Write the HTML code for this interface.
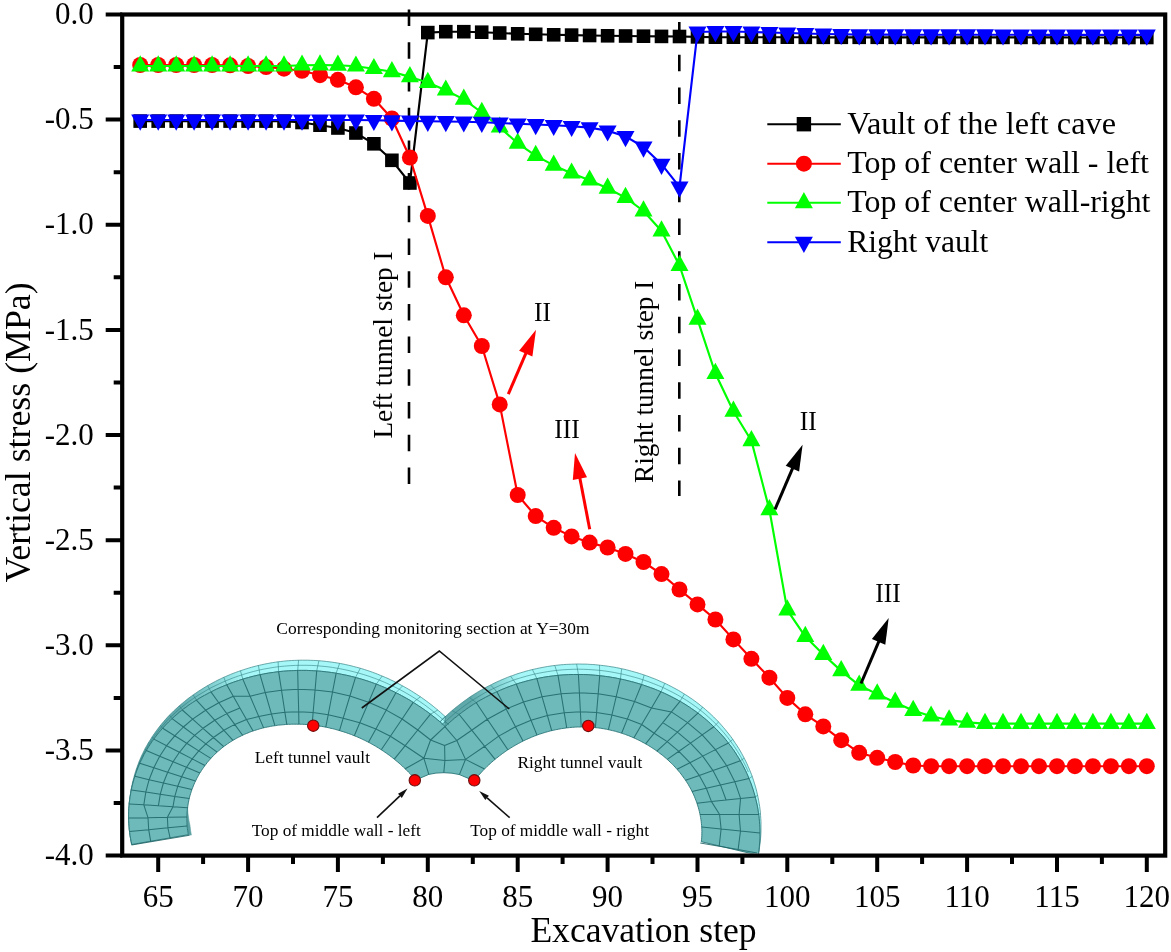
<!DOCTYPE html>
<html lang="en"><head><meta charset="utf-8"><title>Vertical stress vs excavation step</title>
<style>html,body{margin:0;padding:0;background:#fff}body{width:1171px;height:952px;overflow:hidden}svg{display:block;will-change:transform}text{font-family:"Liberation Serif","Times New Roman",Times,serif;fill:#000}</style></head><body>
<svg width="1171" height="952" viewBox="0 0 1171 952">
<rect width="1171" height="952" fill="#fff"/>
<defs>
<clipPath id="ins"><rect x="124.3" y="600" width="700" height="253.5"/></clipPath>
<linearGradient id="rg" gradientUnits="userSpaceOnUse" x1="470" y1="0" x2="520" y2="0"><stop offset="0" stop-color="#60a9ab"/><stop offset="1" stop-color="#a6f7f7"/></linearGradient>
<linearGradient id="lg" gradientUnits="userSpaceOnUse" x1="178" y1="0" x2="246" y2="0"><stop offset="0" stop-color="#5fa9ab"/><stop offset="1" stop-color="#a6f7f7"/></linearGradient>
</defs>
<g clip-path="url(#ins)">
<path d="M187.6 807.1L187.4 809.2L187.1 811.3L187 813.4L186.9 815.6L186.8 817.7L186.8 819.8L186.9 821.9L187 824.1L187.1 826.2L187.4 828.3L187.6 830.5L188 832.6L188.3 834.7L191.3 835.1L191 833L190.6 830.9L190.4 828.7L190.1 826.6L189.8 824.5L189.3 822.3L188.9 820.2L188.6 818.1L188.3 816L188 813.8L187.8 811.7L187.7 809.6L187.6 807.5z" fill="#5a9fa1" stroke="#5a9fa1" stroke-width="0.6"/>
<polygon points="131.5,844.6 131,841.6 130.5,838.6 130.1,835.7 129.7,832.7 129.3,829.7 129.1,826.7 128.8,823.6 128.7,820.6 128.6,817.6 128.6,814.6 128.7,811.6 128.9,808.6 129.1,805.5 129.3,802.5 129.7,799.5 130,796.5 130.5,793.6 130.9,790.6 131.5,787.6 132.1,784.7 132.7,781.7 133.5,778.8 134.3,775.9 135.1,773 136,770.2 137,767.3 138,764.5 139.1,761.7 140.2,759 141.4,756.2 142.7,753.5 144,750.9 145.3,748.2 146.8,745.6 148.2,743 149.8,740.5 151.4,738 153,735.5 154.7,733.1 156.4,730.7 158.2,728.3 160,726 161.8,723.7 163.7,721.5 165.6,719.3 167.6,717.1 169.6,715 171.7,712.9 173.7,710.9 175.9,708.9 178,707 180.2,705.1 182.4,703.2 184.6,701.4 186.8,699.6 189.1,697.8 191.4,696.2 193.7,694.5 196.1,692.9 198.4,691.3 200.8,689.8 203.2,688.3 205.6,686.8 208,685.4 210.5,684 212.9,682.7 215.4,681.4 217.9,680.1 220.4,678.9 222.9,677.7 225.4,676.6 228,675.5 230.5,674.4 233.1,673.4 235.7,672.4 238.3,671.5 240.9,670.6 243.5,669.7 246.1,668.9 248.7,668.1 251.3,667.3 254,666.6 256.6,665.9 259.2,665.3 261.9,664.7 264.6,664.1 267.2,663.6 269.9,663.1 272.6,662.6 275.3,662.2 278,661.8 280.7,661.5 283.4,661.2 286,660.9 288.8,660.7 291.5,660.5 294.2,660.4 296.9,660.3 299.6,660.2 302.3,660.2 305,660.2 307.7,660.2 310.4,660.3 313.2,660.4 315.9,660.5 318.6,660.7 321.3,660.9 324,661.2 326.7,661.5 329.4,661.8 332.2,662.2 334.9,662.6 337.6,663 340.3,663.5 343,664 345.7,664.6 348.4,665.2 351.1,665.8 353.7,666.5 356.4,667.2 359.1,667.9 361.8,668.7 364.4,669.5 367.1,670.4 369.8,671.3 372.4,672.2 375.1,673.2 377.7,674.2 380.3,675.3 383,676.4 385.6,677.5 388.2,678.6 390.8,679.9 393.4,681.1 396,682.4 398.6,683.7 401.1,685.1 403.7,686.5 406.2,687.9 408.8,689.4 411.3,690.9 413.8,692.5 416.3,694.1 418.8,695.7 421.3,697.4 423.7,699.1 426.2,700.9 428.6,702.7 431.1,704.6 433.5,706.5 435.8,708.4 438.2,710.4 440.6,712.4 442.9,714.5 445.2,716.6 447.5,718.7 449.8,720.9 452.1,723.1 445.3,716.4 444.9,726.6 444.4,725.7 442.1,723.7 439.8,721.7 437.5,719.8 435.2,717.9 432.8,716 430.5,714.2 428.1,712.4 425.7,710.7 423.3,709 421,707.4 418.5,705.8 416.1,704.2 413.7,702.7 411.3,701.2 408.9,699.7 406.4,698.3 404,697 401.5,695.6 399.1,694.3 396.6,693.1 394.1,691.8 391.7,690.7 389.2,689.5 386.7,688.4 384.2,687.3 381.7,686.3 379.3,685.3 376.8,684.3 374.3,683.4 371.8,682.5 369.3,681.6 366.8,680.8 364.3,680 361.7,679.2 359.2,678.5 356.7,677.8 354.2,677.1 351.7,676.5 349.2,675.9 346.7,675.3 344.1,674.8 341.6,674.3 339.1,673.8 336.6,673.3 334.1,672.9 331.5,672.5 329,672.2 326.5,671.9 324,671.6 321.4,671.3 318.9,671.1 316.4,670.9 313.9,670.8 311.3,670.6 308.8,670.5 306.3,670.4 303.8,670.4 301.3,670.4 298.7,670.4 296.2,670.5 293.7,670.6 291.2,670.7 288.6,670.8 286.1,671 283.6,671.2 281.1,671.4 278.6,671.7 276,672 273.5,672.4 271,672.7 268.5,673.1 266,673.5 263.5,674 261,674.5 258.5,675 256,675.6 253.5,676.2 251,676.8 248.5,677.5 246,678.2 243.5,678.9 241,679.7 238.6,680.5 236.1,681.3 233.6,682.2 231.1,683.1 228.7,684 226.2,685 223.8,686 221.3,687 218.9,688.1 216.5,689.2 214.1,690.4 211.7,691.6 209.2,692.8 206.9,694.1 204.5,695.4 202.1,696.7 199.7,698.1 197.4,699.5 195,701 192.7,702.5 190.4,704 188.1,705.6 185.9,707.3 183.6,708.9 181.4,710.7 179.2,712.4 177,714.3 174.9,716.1 172.8,718 170.7,720 168.6,722 166.6,724 164.6,726.1 162.7,728.2 160.7,730.4 158.9,732.6 157,734.9 155.3,737.2 153.5,739.5 151.8,741.9 150.2,744.4 148.6,746.8 147.1,749.3 145.6,751.9 144.1,754.5 142.8,757.1 141.5,759.8 140.2,762.4 139,765.2 137.9,767.9 136.8,770.7 135.8,773.5 134.9,776.3 134,779.2 133.2,782.1 132.4,785 131.7,787.9 131.1,790.8 130.6,793.8 130.1,796.7 129.7,799.7 129.3,802.7 129.1,805.7 128.8,808.7 128.7,811.7 128.6,814.7 128.6,817.7 128.7,820.7 128.9,823.7 129.1,826.7 129.3,829.7 129.7,832.7 130.1,835.7 130.6,838.6 131.2,841.6 131.8,844.5" fill="url(#lg)" stroke="#3a8486" stroke-width="0.7" stroke-linejoin="round"/>
<polygon points="445.3,716.4 438.3,723.5 440.5,721.3 442.8,719.1 445,716.9 447.3,714.8 449.6,712.7 451.9,710.7 454.3,708.7 456.7,706.8 459.1,704.9 461.5,703.1 463.9,701.3 466.4,699.5 468.8,697.8 471.3,696.1 473.8,694.5 476.3,692.9 478.8,691.4 481.4,689.9 483.9,688.5 486.5,687.1 489.1,685.7 491.7,684.4 494.3,683.1 496.9,681.9 499.5,680.7 502.1,679.6 504.7,678.5 507.4,677.4 510,676.4 512.7,675.5 515.3,674.5 518,673.6 520.6,672.8 523.3,672 526,671.2 528.6,670.5 531.3,669.8 534,669.2 536.7,668.6 539.4,668 542,667.5 544.7,667 547.4,666.5 550.1,666.1 552.8,665.7 555.5,665.4 558.1,665.1 560.8,664.8 563.5,664.6 566.2,664.4 568.9,664.3 571.5,664.2 574.2,664.1 576.9,664 579.5,664 582.2,664.1 584.8,664.1 587.5,664.2 590.1,664.4 592.8,664.5 595.4,664.7 598,665 600.6,665.3 603.3,665.6 605.9,665.9 608.5,666.3 611.1,666.7 613.7,667.1 616.3,667.6 618.9,668.1 621.4,668.7 624,669.2 626.6,669.8 629.1,670.5 631.7,671.2 634.2,671.9 636.8,672.6 639.3,673.4 641.8,674.2 644.3,675 646.8,675.9 649.3,676.8 651.8,677.8 654.3,678.7 656.7,679.7 659.2,680.8 661.7,681.9 664.1,683 666.5,684.1 668.9,685.3 671.3,686.5 673.7,687.8 676.1,689.1 678.5,690.4 680.8,691.8 683.1,693.2 685.5,694.7 687.7,696.1 690,697.7 692.3,699.2 694.5,700.8 696.8,702.5 699,704.2 701.1,705.9 703.3,707.6 705.4,709.4 707.5,711.3 709.6,713.1 711.7,715.1 713.7,717 715.7,719 717.7,721 719.6,723.1 721.5,725.2 723.4,727.4 725.2,729.5 727,731.8 728.8,734 730.6,736.3 732.3,738.6 733.9,741 735.5,743.4 737.1,745.8 738.7,748.3 740.2,750.8 741.6,753.3 743,755.9 744.4,758.5 745.7,761.1 747,763.8 748.2,766.5 749.4,769.2 750.5,772 751.6,774.7 752.6,777.5 753.5,780.3 754.4,783.2 755.3,786.1 756.1,788.9 756.8,791.8 757.5,794.8 758.1,797.7 758.7,800.7 759.2,803.7 759.7,806.6 760.1,809.6 760.4,812.7 760.6,815.7 760.8,818.7 761,821.8 761,824.8 761,827.8 761,830.9 760.9,833.9 760.7,837 760.4,840 760.1,843.1 759.7,846.1 759.3,849.1 758.7,852.2 758.2,855.2 758.2,855.2 758.7,852.2 759,849.1 759.4,846.1 759.6,843 759.8,840 759.9,836.9 759.9,833.9 759.9,830.9 759.8,827.8 759.7,824.8 759.5,821.8 759.2,818.8 758.9,815.8 758.4,812.8 758,809.9 757.5,806.9 756.9,804 756.2,801.1 755.5,798.2 754.8,795.3 753.9,792.4 753.1,789.6 752.1,786.8 751.2,784 750.1,781.3 749,778.6 747.9,775.9 746.7,773.2 745.5,770.6 744.2,768 742.9,765.4 741.5,762.9 740.1,760.4 738.6,757.9 737.1,755.5 735.6,753.1 734,750.7 732.4,748.4 730.7,746.1 729,743.9 727.3,741.6 725.6,739.5 723.8,737.3 721.9,735.2 720.1,733.2 718.2,731.2 716.3,729.2 714.3,727.3 712.4,725.4 710.4,723.5 708.4,721.7 706.3,719.9 704.3,718.2 702.2,716.5 700.1,714.8 698,713.2 695.9,711.6 693.7,710.1 691.5,708.6 689.4,707.1 687.2,705.7 685,704.3 682.7,702.9 680.5,701.6 678.2,700.3 676,699.1 673.7,697.9 671.4,696.7 669.2,695.6 666.9,694.5 664.6,693.4 662.2,692.3 659.9,691.3 657.6,690.4 655.3,689.4 653,688.5 650.6,687.7 648.3,686.8 645.9,686 643.6,685.2 641.2,684.4 638.9,683.7 636.5,683 634.1,682.3 631.7,681.7 629.4,681.1 627,680.5 624.6,679.9 622.2,679.4 619.8,678.9 617.4,678.4 615,677.9 612.6,677.5 610.2,677.1 607.8,676.7 605.4,676.4 602.9,676.1 600.5,675.8 598.1,675.5 595.6,675.3 593.2,675.1 590.8,674.9 588.3,674.7 585.9,674.6 583.4,674.5 580.9,674.5 578.5,674.5 576,674.5 573.5,674.5 571,674.5 568.5,674.6 566,674.8 563.5,674.9 561.1,675.1 558.5,675.3 556,675.6 553.5,675.9 551,676.2 548.5,676.5 546,676.9 543.5,677.3 540.9,677.8 538.4,678.3 535.9,678.8 533.4,679.4 530.8,680 528.3,680.6 525.8,681.3 523.3,682 520.7,682.7 518.2,683.5 515.7,684.3 513.2,685.2 510.6,686.1 508.1,687 505.6,688 503.1,689 500.6,690.1 498.1,691.2 495.6,692.3 493.1,693.5 490.6,694.7 488.1,696 485.6,697.3 483.2,698.6 480.7,700 478.3,701.4 475.9,702.9 473.4,704.4 471,706 468.6,707.6 466.2,709.3 463.9,711 461.5,712.7 459.2,714.5 456.9,716.4 454.6,718.2 452.3,720.2 450,722.1 447.8,724.1 445.6,726.2 444.9,726.6" fill="url(#rg)" stroke="#3a8486" stroke-width="0.7" stroke-linejoin="round"/>
<polygon points="131.8,844.5 131.2,841.6 130.6,838.6 130.1,835.7 129.7,832.7 129.3,829.7 129.1,826.7 128.9,823.7 128.7,820.7 128.6,817.7 128.6,814.7 128.7,811.7 128.8,808.7 129.1,805.7 129.3,802.7 129.7,799.7 130.1,796.7 130.6,793.8 131.1,790.8 131.7,787.9 132.4,785 133.2,782.1 134,779.2 134.9,776.3 135.8,773.5 136.8,770.7 137.9,767.9 139,765.2 140.2,762.4 141.5,759.8 142.8,757.1 144.1,754.5 145.6,751.9 147.1,749.3 148.6,746.8 150.2,744.4 151.8,741.9 153.5,739.5 155.3,737.2 157,734.9 158.9,732.6 160.7,730.4 162.7,728.2 164.6,726.1 166.6,724 168.6,722 170.7,720 172.8,718 174.9,716.1 177,714.3 179.2,712.4 181.4,710.7 183.6,708.9 185.9,707.3 188.1,705.6 190.4,704 192.7,702.5 195,701 197.4,699.5 199.7,698.1 202.1,696.7 204.5,695.4 206.9,694.1 209.2,692.8 211.7,691.6 214.1,690.4 216.5,689.2 218.9,688.1 221.3,687 223.8,686 226.2,685 228.7,684 231.1,683.1 233.6,682.2 236.1,681.3 238.6,680.5 241,679.7 243.5,678.9 246,678.2 248.5,677.5 251,676.8 253.5,676.2 256,675.6 258.5,675 261,674.5 263.5,674 266,673.5 268.5,673.1 271,672.7 273.5,672.4 276,672 278.6,671.7 281.1,671.4 283.6,671.2 286.1,671 288.6,670.8 291.2,670.7 293.7,670.6 296.2,670.5 298.7,670.4 301.3,670.4 303.8,670.4 306.3,670.4 308.8,670.5 311.3,670.6 313.9,670.8 316.4,670.9 318.9,671.1 321.4,671.3 324,671.6 326.5,671.9 329,672.2 331.5,672.5 334.1,672.9 336.6,673.3 339.1,673.8 341.6,674.3 344.1,674.8 346.7,675.3 349.2,675.9 351.7,676.5 354.2,677.1 356.7,677.8 359.2,678.5 361.7,679.2 364.3,680 366.8,680.8 369.3,681.6 371.8,682.5 374.3,683.4 376.8,684.3 379.3,685.3 381.7,686.3 384.2,687.3 386.7,688.4 389.2,689.5 391.7,690.7 394.1,691.8 396.6,693.1 399.1,694.3 401.5,695.6 404,697 406.4,698.3 408.9,699.7 411.3,701.2 413.7,702.7 416.1,704.2 418.5,705.8 421,707.4 423.3,709 425.7,710.7 428.1,712.4 430.5,714.2 432.8,716 435.2,717.9 437.5,719.8 439.8,721.7 442.1,723.7 444.4,725.7 444.9,726.6 445.6,726.2 447.8,724.1 450,722.1 452.3,720.2 454.6,718.2 456.9,716.4 459.2,714.5 461.5,712.7 463.9,711 466.2,709.3 468.6,707.6 471,706 473.4,704.4 475.9,702.9 478.3,701.4 480.7,700 483.2,698.6 485.6,697.3 488.1,696 490.6,694.7 493.1,693.5 495.6,692.3 498.1,691.2 500.6,690.1 503.1,689 505.6,688 508.1,687 510.6,686.1 513.2,685.2 515.7,684.3 518.2,683.5 520.7,682.7 523.3,682 525.8,681.3 528.3,680.6 530.8,680 533.4,679.4 535.9,678.8 538.4,678.3 540.9,677.8 543.5,677.3 546,676.9 548.5,676.5 551,676.2 553.5,675.9 556,675.6 558.5,675.3 561.1,675.1 563.5,674.9 566,674.8 568.5,674.6 571,674.5 573.5,674.5 576,674.5 578.5,674.5 580.9,674.5 583.4,674.5 585.9,674.6 588.3,674.7 590.8,674.9 593.2,675.1 595.6,675.3 598.1,675.5 600.5,675.8 602.9,676.1 605.4,676.4 607.8,676.7 610.2,677.1 612.6,677.5 615,677.9 617.4,678.4 619.8,678.9 622.2,679.4 624.6,679.9 627,680.5 629.4,681.1 631.7,681.7 634.1,682.3 636.5,683 638.9,683.7 641.2,684.4 643.6,685.2 645.9,686 648.3,686.8 650.6,687.7 653,688.5 655.3,689.4 657.6,690.4 659.9,691.3 662.2,692.3 664.6,693.4 666.9,694.5 669.2,695.6 671.4,696.7 673.7,697.9 676,699.1 678.2,700.3 680.5,701.6 682.7,702.9 685,704.3 687.2,705.7 689.4,707.1 691.5,708.6 693.7,710.1 695.9,711.6 698,713.2 700.1,714.8 702.2,716.5 704.3,718.2 706.3,719.9 708.4,721.7 710.4,723.5 712.4,725.4 714.3,727.3 716.3,729.2 718.2,731.2 720.1,733.2 721.9,735.2 723.8,737.3 725.6,739.5 727.3,741.6 729,743.9 730.7,746.1 732.4,748.4 734,750.7 735.6,753.1 737.1,755.5 738.6,757.9 740.1,760.4 741.5,762.9 742.9,765.4 744.2,768 745.5,770.6 746.7,773.2 747.9,775.9 749,778.6 750.1,781.3 751.2,784 752.1,786.8 753.1,789.6 753.9,792.4 754.8,795.3 755.5,798.2 756.2,801.1 756.9,804 757.5,806.9 758,809.9 758.4,812.8 758.9,815.8 759.2,818.8 759.5,821.8 759.7,824.8 759.8,827.8 759.9,830.9 759.9,833.9 759.9,836.9 759.8,840 759.6,843 759.4,846.1 759,849.1 758.7,852.2 758.2,855.2 701.3,841.7 701.5,839.7 701.7,837.7 701.8,835.6 701.8,833.6 701.9,831.5 701.8,829.5 701.7,827.5 701.6,825.5 701.4,823.5 701.2,821.4 700.9,819.5 700.6,817.5 700.2,815.5 699.8,813.5 699.4,811.6 698.9,809.7 698.4,807.8 697.8,805.9 697.2,804 696.6,802.1 695.9,800.3 695.2,798.5 694.5,796.7 693.7,794.9 692.9,793.2 692,791.4 691.2,789.7 690.3,788 689.3,786.4 688.4,784.7 687.4,783.1 686.4,781.6 685.4,780 684.3,778.5 683.2,777 682.1,775.5 681,774 679.9,772.6 678.7,771.2 677.5,769.8 676.3,768.5 675.1,767.1 673.9,765.8 672.7,764.6 671.4,763.3 670.1,762.1 668.9,760.9 667.6,759.7 666.3,758.6 665,757.4 663.6,756.3 662.3,755.2 661,754.2 659.6,753.2 658.3,752.1 656.9,751.2 655.6,750.2 654.2,749.2 652.8,748.3 651.4,747.4 650.1,746.5 648.7,745.7 647.3,744.8 645.9,744 644.4,743.2 643,742.4 641.6,741.7 640.2,740.9 638.8,740.2 637.3,739.5 635.9,738.8 634.5,738.2 633,737.5 631.6,736.9 630.1,736.3 628.7,735.7 627.2,735.2 625.7,734.6 624.3,734.1 622.8,733.6 621.3,733.1 619.8,732.6 618.4,732.2 616.9,731.8 615.4,731.3 613.9,730.9 612.4,730.6 610.9,730.2 609.4,729.9 607.9,729.6 606.4,729.2 604.9,729 603.4,728.7 601.9,728.5 600.4,728.2 598.8,728 597.3,727.8 595.8,727.7 594.3,727.5 592.7,727.4 591.2,727.2 589.7,727.1 588.1,727.1 586.6,727 585,727 583.5,726.9 581.9,726.9 580.4,727 578.8,727 577.3,727 575.7,727.1 574.2,727.2 572.6,727.3 571,727.4 569.5,727.6 567.9,727.8 566.3,727.9 564.8,728.2 563.2,728.4 561.6,728.6 560,728.9 558.5,729.2 556.9,729.5 555.3,729.8 553.7,730.2 552.1,730.5 550.5,730.9 548.9,731.3 547.3,731.8 545.8,732.2 544.2,732.7 542.6,733.2 541,733.7 539.4,734.2 537.8,734.8 536.2,735.4 534.6,736 533,736.6 531.4,737.3 529.8,738 528.2,738.7 526.6,739.4 525,740.1 523.4,740.9 521.8,741.7 520.2,742.6 518.6,743.4 517,744.3 515.4,745.2 513.8,746.1 512.2,747.1 510.6,748.1 509,749.1 507.4,750.1 505.8,751.2 504.3,752.3 502.7,753.4 501.1,754.6 499.5,755.8 498,757 496.4,758.2 494.9,759.5 493.3,760.8 491.8,762.1 490.3,763.5 488.7,764.9 487.2,766.3 485.7,767.8 484.2,769.3 482.7,770.8 481.3,772.4 479.8,774 478.3,775.6 476.9,777.3 475.5,779 474.3,781.5 469.6,778.9 459.4,774.6 452,773.2 443.8,772.7 436,773.1 428.8,774.4 420.4,778 414.8,781.5 414.5,778.6 413,776.9 411.5,775.2 410,773.6 408.4,772 406.9,770.5 405.4,769 403.8,767.5 402.3,766 400.7,764.6 399.1,763.2 397.6,761.9 396,760.6 394.4,759.3 392.8,758 391.3,756.8 389.7,755.6 388.1,754.4 386.5,753.3 384.9,752.2 383.3,751.1 381.7,750.1 380.1,749 378.6,748 377,747.1 375.4,746.1 373.8,745.2 372.2,744.3 370.6,743.4 369,742.5 367.4,741.7 365.8,740.9 364.2,740.1 362.6,739.4 361.1,738.6 359.5,737.9 357.9,737.2 356.3,736.5 354.7,735.9 353.1,735.3 351.6,734.6 350,734 348.4,733.5 346.8,732.9 345.3,732.4 343.7,731.9 342.1,731.4 340.5,730.9 339,730.4 337.4,730 335.8,729.5 334.3,729.1 332.7,728.7 331.1,728.4 329.6,728 328,727.6 326.4,727.3 324.9,727 323.3,726.7 321.7,726.4 320.1,726.2 318.6,725.9 317,725.7 315.4,725.5 313.9,725.3 312.3,725.1 310.7,724.9 309.1,724.8 307.6,724.6 306,724.5 304.4,724.4 302.8,724.3 301.3,724.3 299.7,724.2 298.1,724.2 296.5,724.2 294.9,724.2 293.3,724.2 291.7,724.2 290.1,724.3 288.5,724.3 286.9,724.4 285.3,724.5 283.7,724.7 282.1,724.8 280.5,725 278.8,725.1 277.2,725.3 275.6,725.6 274,725.8 272.4,726.1 270.7,726.3 269.1,726.7 267.5,727 265.8,727.3 264.2,727.7 262.6,728.1 260.9,728.5 259.3,729 257.7,729.5 256.1,730 254.4,730.5 252.8,731.1 251.2,731.6 249.6,732.2 248,732.9 246.3,733.6 244.7,734.2 243.1,735 241.6,735.7 240,736.5 238.4,737.3 236.8,738.1 235.3,739 233.7,739.9 232.2,740.8 230.6,741.8 229.1,742.8 227.6,743.8 226.1,744.9 224.6,745.9 223.2,747 221.7,748.2 220.3,749.4 218.9,750.6 217.5,751.8 216.1,753.1 214.8,754.3 213.4,755.7 212.1,757 210.9,758.4 209.6,759.8 208.4,761.2 207.1,762.7 206,764.2 204.8,765.7 203.7,767.3 202.6,768.8 201.5,770.4 200.5,772.1 199.4,773.7 198.5,775.4 197.5,777.1 196.6,778.8 195.8,780.6 194.9,782.3 194.1,784.1 193.4,785.9 192.6,787.8 191.9,789.6 191.3,791.5 190.7,793.3 190.1,795.2 189.6,797.1 189.1,799.1 188.7,801 188.3,802.9 188,804.9 187.7,806.9 187.4,808.8 187.2,810.8 187,812.8 186.9,814.8 186.8,816.8 186.8,818.8 186.8,820.8 186.9,822.8 187,824.8 187.2,826.8 187.4,828.7 187.7,830.7 188,832.7 188.3,834.7" fill="#6ebaba" stroke="#2a7577" stroke-width="0.9" stroke-linejoin="round"/>
<path d="M394.3 759.2L405.2 745.7L417.8 730L430.5 714.2M405.2 745.7L390.4 736.3M417.8 730L402.1 719M381.3 749.8L390.4 736.3L402.1 719L413.2 702.4M390.4 736.3L375.9 729M402.1 719L386.3 710.1M368.5 742.3L375.9 729L386.3 710.1L395.9 692.7M375.9 729L359.8 722.7M386.3 710.1L368.6 702.2M354.3 735.7L359.8 722.7L368.6 702.2L376.3 684.1M359.8 722.7L343.2 718.2M368.6 702.2L349.9 696M339.5 730.6L343.2 718.2L349.9 696L355.5 677.4M343.2 718.2L328.2 714.8M349.9 696L332.5 692.1M325.8 727.2L328.2 714.8L332.5 692.1L336.1 673.3M328.2 714.8L313.1 712.6M332.5 692.1L315.1 689.9M312.1 725.1L313.1 712.6L315.1 689.9L316.7 670.9M313.1 712.6L298.7 711.8M315.1 689.9L298.1 689.3M298.9 724.2L298.7 711.8L298.1 689.3L297.7 670.4M298.7 711.8L284.9 712.3M298.1 689.3L281.5 690.2M286.8 724.4L284.9 712.3L281.5 690.2L278.6 671.7M284.9 712.3L271.4 713.9M281.5 690.2L265.2 692.5M274.9 725.7L271.4 713.9L265.2 692.5L260 674.7M271.4 713.9L258.8 716.6M265.2 692.5L250.1 696.2M263.6 727.9L258.8 716.6L250.1 696.2L242.8 679.1M258.8 716.6L246.5 719.4M250.1 696.2L233.3 696.3M253.1 731L246.5 719.4L239.9 707.9L233.3 696.3L226.7 684.8M246.5 719.4L234.7 724.4M239.9 707.9L226.8 713.6M233.3 696.3L218.8 702.8M242.6 735.2L234.7 724.4L226.8 713.6L218.8 702.8L210.9 691.9M234.7 724.4L223.9 730.3M226.8 713.6L214.7 720.2M218.8 702.8L205.6 710.2M233 740.3L223.9 730.3L214.7 720.2L205.6 710.2L196.4 700.1M223.9 730.3L213.4 737.5M214.7 720.2L203 728.3M205.6 710.2L192.6 719.1M223.7 746.6L213.4 737.5L203 728.3L192.6 719.1L182.3 710M213.4 737.5L205.8 743.8M203 728.3L194.6 735.4M192.6 719.1L183.4 727M217.1 752.2L205.8 743.8L194.6 735.4L183.4 727L172.1 718.6M205.8 743.8L198.8 750.9M194.6 735.4L186.7 743.3M183.4 727L174.7 735.8M210.8 758.4L198.8 750.9L186.7 743.3L174.7 735.8L162.7 728.2M198.8 750.9L192.2 758.9M186.7 743.3L179.4 752.3M174.7 735.8L166.6 745.7M205 765.5L192.2 758.9L179.4 752.3L166.6 745.7L153.9 739.1M192.2 758.9L186.5 767.3M179.4 752.3L173.1 761.8M166.6 745.7L159.7 756.2M199.9 772.9L186.5 767.3L173.1 761.8L159.7 756.2L146.3 750.6M186.5 767.3L181.6 776.7M173.1 761.8L167.7 772.2M159.7 756.2L153.8 767.7M195.5 781.1L181.6 776.7L167.7 772.2L153.8 767.7L139.8 763.3M181.6 776.7L177.7 786.3M167.7 772.2L163.4 783M153.8 767.7L149.1 779.7M191.9 789.6L177.7 786.3L163.4 783L149.1 779.7L134.9 776.3M177.7 786.3L174.8 796.4M163.4 783L160.3 794.2M149.1 779.7L145.8 792.1M189.3 798.5L174.8 796.4L160.3 794.2L145.8 792.1L131.3 789.9M174.8 796.4L173 806.7M160.3 794.2L158.4 805.8M145.8 792.1L143.8 804.8M187.6 807.7L173 806.7L158.4 805.8L143.8 804.8L129.2 803.9M167.4 817.3L173 806.7M148 817.7L143.8 804.8M186.8 817L167.4 817.3L148 817.7L128.6 818M167.4 817.3L167.9 827.8M148 817.7L148.7 829.7M187.1 826L167.9 827.8L148.7 829.7L129.5 831.5M167.9 827.8L170.2 838.5M148.7 829.7L150.8 841.8M189.5 835.2L170.2 838.5L150.8 841.8L131.5 845.1M495.1 759.3L484.7 746.3L471.7 730.2L459.2 714.5M484.7 746.3L498.7 736.1M471.7 730.2L487.3 719.2M507.9 749.8L498.7 736.1L487.3 719.2L476.3 702.7M498.7 736.1L515.5 726.8M487.3 719.2L506.1 709M523 741.1L515.5 726.8L506.1 709L496.9 691.7M515.5 726.8L531 720.3M506.1 709L523.5 702M537 735.1L531 720.3L523.5 702L516.3 684.1M531 720.3L547.4 715.5M523.5 702L542.1 696.8M551.7 730.6L547.4 715.5L542.1 696.8L536.9 678.6M547.4 715.5L564.2 712.7M542.1 696.8L561.1 693.8M566.7 727.9L564.2 712.7L561.1 693.8L558 675.4M564.2 712.7L580.4 711.7M561.1 693.8L579.4 692.8M581.2 726.9L580.4 711.7L579.4 692.8L578.4 674.5M580.4 711.7L596.6 712.5M579.4 692.8L598.2 693.8M595.4 727.6L596.6 712.5L598.2 693.8L599.7 675.7M596.6 712.5L611.9 715M598.2 693.8L616.2 696.7M608.4 729.6L611.9 715L616.2 696.7L620.4 679M611.9 715L627.3 719.1M616.2 696.7L634.5 701.6M621.6 733.2L627.3 719.1L634.5 701.6L641.5 684.5M627.3 719.1L641.7 724.5M634.5 701.6L651.5 707.9M633.8 737.9L641.7 724.5L651.5 707.9L661 691.8M641.7 724.5L654.2 733.2M651.5 707.9L671.4 711.9M645.6 743.9L654.2 733.2L662.8 722.6L671.4 711.9L680 701.3M654.2 733.2L667.2 741.6M662.8 722.6L677.4 732.1M671.4 711.9L687.6 722.6M656.9 751.1L667.2 741.6L677.4 732.1L687.6 722.6L697.9 713.1M667.2 741.6L678.9 751.3M677.4 732.1L690.5 743.1M687.6 722.6L702.2 734.9M667.3 759.4L678.9 751.3L690.5 743.1L702.2 734.9L713.8 726.7M678.9 751.3L689.9 762.7M690.5 743.1L702.7 756.1M702.2 734.9L715.5 749.6M677.1 769.3L689.9 762.7L702.7 756.1L715.5 749.6L728.4 743M689.9 762.7L699.3 775.4M702.7 756.1L713 770.6M715.5 749.6L726.7 765.7M685.6 780.3L699.3 775.4L713 770.6L726.7 765.7L740.3 760.8M699.3 775.4L706.3 788.2M713 770.6L720.5 784.9M726.7 765.7L734.8 781.7M692 791.4L706.3 788.2L720.5 784.9L734.8 781.7L749 778.5M706.3 788.2L711.5 801.6M720.5 784.9L726.1 800M734.8 781.7L740.6 798.4M697 803.2L711.5 801.6L726.1 800L740.6 798.4L755.2 796.9M719.6 814.5L711.5 801.6M739.1 814.5L740.6 798.4M700.1 814.6L719.6 814.5L739.1 814.5L758.7 814.4M719.6 814.5L721.1 829M739.1 814.5L740.5 831M701.7 826.9L721.1 829L740.5 831L759.9 833.1M721.1 829L719.2 846.2M740.5 831L738.1 849.6M700.3 842.9L719.2 846.2L738.1 849.6L757 852.9M444.9 726.6L430.6 740L423.9 758.3L405.2 768.8M444.9 726.6L456.8 740.5L465.5 759.4L484.5 769M430.6 740L444.6 745.5L456.8 740.5M444.6 745.5L444.9 760.5L443.8 772.7M423.9 758.3L444.9 760.5L465.5 759.4M423.9 758.3L428.8 774.4M465.5 759.4L459.4 774.6M417.8 730L430.6 740M405.2 745.7L423.9 758.3M471.7 730.2L456.8 740.5M484.7 746.3L465.5 759.4" fill="none" stroke="#1d6466" stroke-opacity="0.85" stroke-width="1.05" stroke-linejoin="round"/>
<path d="M430.5 714.2L437.8 710M413.2 702.4L420.4 696.8M395.9 692.7L402.6 685.9M376.3 684.1L382.2 676M355.5 677.4L360.3 668.3M336.1 673.3L339.6 663.4M316.7 670.9L318.9 660.7M297.7 670.4L298.6 660.2M278.6 671.7L278.1 661.8M260 674.7L258.4 665.5M242.8 679.1L240.4 670.7M226.7 684.8L223.8 677.4M210.9 691.9L207.7 685.6M196.4 700.1L193.2 694.9M182.3 710L179.3 705.8M172.1 718.6L169.5 715.2M162.7 728.2L160.4 725.4M153.9 739.1L152.1 736.8M146.3 750.6L145 748.8M139.8 763.3L139.1 761.8M134.9 776.3L134.5 775M131.3 789.9L131.3 788.7M129.2 803.9L129.3 802.7M136.3 770.9L138.4 765.2L140.7 759.7L143.3 754.2L146.1 749L149.1 743.8L152.4 738.8L155.8 734L159.5 729.3L163.3 724.9L167.2 720.5L171.3 716.4L175.6 712.4L179.9 708.6L184.4 705L188.9 701.6L193.6 698.3L198.3 695.2L203.1 692.3L207.9 689.5L212.8 686.9L217.8 684.5L222.8 682.2L227.8 680L232.8 678L237.9 676.2L243 674.5L248.2 672.9L253.4 671.5L258.6 670.2L263.8 669.1L269 668.2L274.2 667.3L279.5 666.6L284.8 666.1L290 665.7L295.3 665.4L300.6 665.3L305.9 665.3L311.2 665.4L316.4 665.7L321.7 666.2L327 666.7L332.3 667.4L337.6 668.3L342.9 669.3L348.1 670.4L353.4 671.7L358.6 673.1L363.8 674.6L369.1 676.3L374.3 678.2L379.4 680.1L384.6 682.3L389.7 684.6L394.8 687L399.9 689.6L405 692.4L410 695.3L415 698.4L419.9 701.6L424.8 705L429.6 708.6L434.4 712.4L439.2 716.3L443.9 720.4L448.5 724.6L445.1 721.5M459.2 714.5L452.1 710.6M476.3 702.7L469.4 697.4M496.9 691.7L490.6 685M516.3 684.1L510.6 676.2M536.9 678.6L532.4 669.6M558 675.4L554.8 665.5M578.4 674.5L576.6 664.1M599.7 675.7L599.5 665.1M620.4 679L621.7 668.7M641.5 684.5L644.2 675M661 691.8L664.8 683.3M680 701.3L684.4 694M697.9 713.1L702.7 707.1M713.8 726.7L718.6 722M728.4 743L732.8 739.4M740.3 760.8L744.2 758.2M749 778.5L752.2 776.5M755.2 796.9L757.7 795.4M758.7 814.4L760.4 813.2M445.1 721.5L441.8 724.9L446.3 720.7L450.9 716.5L455.5 712.6L460.3 708.9L465.1 705.3L470 701.9L474.9 698.7L479.9 695.7L484.9 692.8L490 690.2L495.1 687.7L500.3 685.3L505.4 683.2L510.6 681.2L515.8 679.3L521 677.7L526.3 676.2L531.5 674.8L536.7 673.6L542 672.6L547.2 671.7L552.5 670.9L557.7 670.3L562.9 669.8L568.1 669.5L573.3 669.3L578.4 669.2L583.6 669.3L588.7 669.5L593.9 669.9L599 670.3L604.1 670.9L609.1 671.6L614.2 672.5L619.2 673.5L624.2 674.5L629.1 675.8L634.1 677.1L639 678.5L643.9 680.1L648.8 681.8L653.7 683.7L658.5 685.6L663.3 687.7L668 690L672.7 692.4L677.4 694.9L682 697.6L686.6 700.4L691.1 703.4L695.5 706.5L699.9 709.8L704.1 713.2L708.3 716.9L712.4 720.6L716.4 724.6L720.2 728.6L724 732.9L727.6 737.3L731 741.8L734.3 746.5L737.5 751.4L740.5 756.3L743.3 761.5L745.9 766.7L748.4 772.1" fill="none" stroke="#2f7c7e" stroke-opacity="0.75" stroke-width="0.75"/>
</g>
<path d="M361.8 708L439.3 651L509.3 709" fill="none" stroke="#111" stroke-width="1.6"/>
<line x1="377" y1="817.6" x2="399.9" y2="795.8" stroke="#111" stroke-width="1.6"/><path d="M407.5 788.6L401.8 797.9L398 793.8z" fill="#111"/>
<line x1="509.7" y1="817.7" x2="487.1" y2="797.9" stroke="#111" stroke-width="1.6"/><path d="M479.2 791L488.9 795.8L485.3 800z" fill="#111"/>
<circle cx="313.25" cy="725.7" r="5.7" fill="#f00" stroke="#6b0f0f" stroke-width="1.1"/>
<circle cx="414.8" cy="780.3" r="5.7" fill="#f00" stroke="#6b0f0f" stroke-width="1.1"/>
<circle cx="474.3" cy="780.3" r="5.7" fill="#f00" stroke="#6b0f0f" stroke-width="1.1"/>
<circle cx="588.3" cy="725.9" r="5.7" fill="#f00" stroke="#6b0f0f" stroke-width="1.1"/>
<g font-size="17.3px" fill="#1c1c1c">
<text x="276.3" y="634.4" textLength="313.3" lengthAdjust="spacingAndGlyphs">Corresponding monitoring section at Y=30m</text>
<text x="254.8" y="763.2">Left tunnel vault</text>
<text x="251.7" y="836.3">Top of middle wall - left</text>
<text x="517.5" y="767.8">Right tunnel vault</text>
<text x="470.2" y="836">Top of middle wall - right</text>
</g>
<line x1="409" y1="9.6" x2="409" y2="484" stroke="#000" stroke-width="2.6" stroke-dasharray="16.5 16.2"/>
<line x1="679.3" y1="22" x2="679.3" y2="496" stroke="#000" stroke-width="2.6" stroke-dasharray="16.5 16.25"/>
<polyline points="140.2,121.1 158.2,121.1 176.2,121.1 194.1,121.1 212.1,121.1 230.1,121.1 248.1,121.1 266.1,121.1 284,121.1 302,122.5 320,125.2 337.9,128 355.9,133 373.9,143.8 391.9,160.3 409.9,183 427.8,32.6 445.8,31.7 463.8,31.7 481.8,32.2 499.7,33 517.7,33.8 535.7,34.3 553.7,34.8 571.6,35.1 589.6,35.5 607.6,35.8 625.5,36 643.5,36.2 661.5,36.4 679.5,36.5 697.5,36.9 715.4,37.2 733.4,37.2 751.4,37.2 769.4,37.2 787.3,37.2 805.3,37.3 823.3,37.3 841.2,37.3 859.2,37.3 877.2,37.3 895.2,37.3 913.2,37.3 931.1,37.4 949.1,37.4 967.1,37.4 985,37.4 1003,37.4 1021,37.4 1039,37.4 1057,37.4 1074.9,37.5 1092.9,37.5 1110.9,37.5 1128.9,37.5 1146.8,37.5" fill="none" stroke="#000" stroke-width="2.15" stroke-linejoin="round"/>
<g fill="#000"><rect x="133.4" y="114.3" width="13.6" height="13.6"/><rect x="151.4" y="114.3" width="13.6" height="13.6"/><rect x="169.4" y="114.3" width="13.6" height="13.6"/><rect x="187.3" y="114.3" width="13.6" height="13.6"/><rect x="205.3" y="114.3" width="13.6" height="13.6"/><rect x="223.3" y="114.3" width="13.6" height="13.6"/><rect x="241.3" y="114.3" width="13.6" height="13.6"/><rect x="259.2" y="114.3" width="13.6" height="13.6"/><rect x="277.2" y="114.3" width="13.6" height="13.6"/><rect x="295.2" y="115.7" width="13.6" height="13.6"/><rect x="313.2" y="118.4" width="13.6" height="13.6"/><rect x="331.1" y="121.2" width="13.6" height="13.6"/><rect x="349.1" y="126.2" width="13.6" height="13.6"/><rect x="367.1" y="137" width="13.6" height="13.6"/><rect x="385.1" y="153.5" width="13.6" height="13.6"/><rect x="403.1" y="176.2" width="13.6" height="13.6"/><rect x="421" y="25.8" width="13.6" height="13.6"/><rect x="439" y="24.9" width="13.6" height="13.6"/><rect x="457" y="24.9" width="13.6" height="13.6"/><rect x="474.9" y="25.4" width="13.6" height="13.6"/><rect x="492.9" y="26.2" width="13.6" height="13.6"/><rect x="510.9" y="27" width="13.6" height="13.6"/><rect x="528.9" y="27.5" width="13.6" height="13.6"/><rect x="546.9" y="28" width="13.6" height="13.6"/><rect x="564.8" y="28.3" width="13.6" height="13.6"/><rect x="582.8" y="28.7" width="13.6" height="13.6"/><rect x="600.8" y="29" width="13.6" height="13.6"/><rect x="618.8" y="29.2" width="13.6" height="13.6"/><rect x="636.7" y="29.4" width="13.6" height="13.6"/><rect x="654.7" y="29.6" width="13.6" height="13.6"/><rect x="672.7" y="29.7" width="13.6" height="13.6"/><rect x="690.7" y="30.1" width="13.6" height="13.6"/><rect x="708.6" y="30.4" width="13.6" height="13.6"/><rect x="726.6" y="30.4" width="13.6" height="13.6"/><rect x="744.6" y="30.4" width="13.6" height="13.6"/><rect x="762.6" y="30.4" width="13.6" height="13.6"/><rect x="780.5" y="30.4" width="13.6" height="13.6"/><rect x="798.5" y="30.5" width="13.6" height="13.6"/><rect x="816.5" y="30.5" width="13.6" height="13.6"/><rect x="834.5" y="30.5" width="13.6" height="13.6"/><rect x="852.4" y="30.5" width="13.6" height="13.6"/><rect x="870.4" y="30.5" width="13.6" height="13.6"/><rect x="888.4" y="30.5" width="13.6" height="13.6"/><rect x="906.4" y="30.5" width="13.6" height="13.6"/><rect x="924.3" y="30.6" width="13.6" height="13.6"/><rect x="942.3" y="30.6" width="13.6" height="13.6"/><rect x="960.3" y="30.6" width="13.6" height="13.6"/><rect x="978.2" y="30.6" width="13.6" height="13.6"/><rect x="996.2" y="30.6" width="13.6" height="13.6"/><rect x="1014.2" y="30.6" width="13.6" height="13.6"/><rect x="1032.2" y="30.6" width="13.6" height="13.6"/><rect x="1050.2" y="30.6" width="13.6" height="13.6"/><rect x="1068.1" y="30.7" width="13.6" height="13.6"/><rect x="1086.1" y="30.7" width="13.6" height="13.6"/><rect x="1104.1" y="30.7" width="13.6" height="13.6"/><rect x="1122.1" y="30.7" width="13.6" height="13.6"/><rect x="1140" y="30.7" width="13.6" height="13.6"/></g>
<polyline points="140.2,65 158.2,65 176.2,65 194.1,65 212.1,65 230.1,65.3 248.1,66 266.1,67 284,68.7 302,70.8 320,75.2 337.9,79.8 355.9,87.3 373.9,98.8 391.9,118.5 409.9,157.5 427.8,215.9 445.8,277.3 463.8,315.3 481.8,346 499.7,404.4 517.7,495 535.7,516.1 553.7,527.8 571.6,536.4 589.6,542.6 607.6,547.5 625.5,553.9 643.5,562 661.5,574.1 679.5,589.5 697.5,604.4 715.4,619.5 733.4,639.4 751.4,658.8 769.4,677.7 787.3,697.9 805.3,714.3 823.3,726.4 841.2,740.2 859.2,752.8 877.2,757.8 895.2,762 913.2,765.5 931.1,766.2 949.1,766.2 967.1,766.2 985,766.2 1003,766.2 1021,766.2 1039,766.2 1057,766.2 1074.9,766.2 1092.9,766.2 1110.9,766.2 1128.9,766.2 1146.8,766.2" fill="none" stroke="#f00" stroke-width="2.15" stroke-linejoin="round"/>
<g fill="#f00"><circle cx="140.2" cy="65" r="8"/><circle cx="158.2" cy="65" r="8"/><circle cx="176.2" cy="65" r="8"/><circle cx="194.1" cy="65" r="8"/><circle cx="212.1" cy="65" r="8"/><circle cx="230.1" cy="65.3" r="8"/><circle cx="248.1" cy="66" r="8"/><circle cx="266.1" cy="67" r="8"/><circle cx="284" cy="68.7" r="8"/><circle cx="302" cy="70.8" r="8"/><circle cx="320" cy="75.2" r="8"/><circle cx="337.9" cy="79.8" r="8"/><circle cx="355.9" cy="87.3" r="8"/><circle cx="373.9" cy="98.8" r="8"/><circle cx="391.9" cy="118.5" r="8"/><circle cx="409.9" cy="157.5" r="8"/><circle cx="427.8" cy="215.9" r="8"/><circle cx="445.8" cy="277.3" r="8"/><circle cx="463.8" cy="315.3" r="8"/><circle cx="481.8" cy="346" r="8"/><circle cx="499.7" cy="404.4" r="8"/><circle cx="517.7" cy="495" r="8"/><circle cx="535.7" cy="516.1" r="8"/><circle cx="553.7" cy="527.8" r="8"/><circle cx="571.6" cy="536.4" r="8"/><circle cx="589.6" cy="542.6" r="8"/><circle cx="607.6" cy="547.5" r="8"/><circle cx="625.5" cy="553.9" r="8"/><circle cx="643.5" cy="562" r="8"/><circle cx="661.5" cy="574.1" r="8"/><circle cx="679.5" cy="589.5" r="8"/><circle cx="697.5" cy="604.4" r="8"/><circle cx="715.4" cy="619.5" r="8"/><circle cx="733.4" cy="639.4" r="8"/><circle cx="751.4" cy="658.8" r="8"/><circle cx="769.4" cy="677.7" r="8"/><circle cx="787.3" cy="697.9" r="8"/><circle cx="805.3" cy="714.3" r="8"/><circle cx="823.3" cy="726.4" r="8"/><circle cx="841.2" cy="740.2" r="8"/><circle cx="859.2" cy="752.8" r="8"/><circle cx="877.2" cy="757.8" r="8"/><circle cx="895.2" cy="762" r="8"/><circle cx="913.2" cy="765.5" r="8"/><circle cx="931.1" cy="766.2" r="8"/><circle cx="949.1" cy="766.2" r="8"/><circle cx="967.1" cy="766.2" r="8"/><circle cx="985" cy="766.2" r="8"/><circle cx="1003" cy="766.2" r="8"/><circle cx="1021" cy="766.2" r="8"/><circle cx="1039" cy="766.2" r="8"/><circle cx="1057" cy="766.2" r="8"/><circle cx="1074.9" cy="766.2" r="8"/><circle cx="1092.9" cy="766.2" r="8"/><circle cx="1110.9" cy="766.2" r="8"/><circle cx="1128.9" cy="766.2" r="8"/><circle cx="1146.8" cy="766.2" r="8"/></g>
<polyline points="140.2,66 158.2,66 176.2,66 194.1,66 212.1,66 230.1,66 248.1,66 266.1,66 284,66 302,65.2 320,65 337.9,65.3 355.9,66.2 373.9,68.7 391.9,71.8 409.9,76.9 427.8,82.6 445.8,90.2 463.8,99.4 481.8,112.5 499.7,127.2 517.7,143.4 535.7,155.6 553.7,165.4 571.6,173.2 589.6,180.2 607.6,188.3 625.5,197.6 643.5,211 661.5,231 679.5,265.5 697.5,319.4 715.4,373.5 733.4,411.3 751.4,440.8 769.4,509.8 787.3,610.1 805.3,636.6 823.3,654.5 841.2,670.9 859.2,685.3 877.2,694.1 895.2,702.4 913.2,710.5 931.1,716.2 949.1,720.1 967.1,722.4 985,723.6 1003,723.6 1021,723.6 1039,723.6 1057,723.6 1074.9,723.6 1092.9,723.6 1110.9,723.6 1128.9,723.6 1146.8,723.6" fill="none" stroke="#0f0" stroke-width="2.15" stroke-linejoin="round"/>
<g fill="#0f0"><path d="M131.2 71.4L149.2 71.4L140.2 55.2z"/><path d="M149.2 71.4L167.2 71.4L158.2 55.2z"/><path d="M167.2 71.4L185.2 71.4L176.2 55.2z"/><path d="M185.1 71.4L203.1 71.4L194.1 55.2z"/><path d="M203.1 71.4L221.1 71.4L212.1 55.2z"/><path d="M221.1 71.4L239.1 71.4L230.1 55.2z"/><path d="M239.1 71.4L257.1 71.4L248.1 55.2z"/><path d="M257.1 71.4L275.1 71.4L266.1 55.2z"/><path d="M275 71.4L293 71.4L284 55.2z"/><path d="M293 70.6L311 70.6L302 54.4z"/><path d="M311 70.4L329 70.4L320 54.2z"/><path d="M328.9 70.7L346.9 70.7L337.9 54.5z"/><path d="M346.9 71.6L364.9 71.6L355.9 55.4z"/><path d="M364.9 74.1L382.9 74.1L373.9 57.9z"/><path d="M382.9 77.2L400.9 77.2L391.9 61z"/><path d="M400.9 82.3L418.9 82.3L409.9 66.1z"/><path d="M418.8 88L436.8 88L427.8 71.8z"/><path d="M436.8 95.6L454.8 95.6L445.8 79.4z"/><path d="M454.8 104.8L472.8 104.8L463.8 88.6z"/><path d="M472.8 117.9L490.8 117.9L481.8 101.7z"/><path d="M490.7 132.6L508.7 132.6L499.7 116.4z"/><path d="M508.7 148.8L526.7 148.8L517.7 132.6z"/><path d="M526.7 161L544.7 161L535.7 144.8z"/><path d="M544.7 170.8L562.7 170.8L553.7 154.6z"/><path d="M562.6 178.6L580.6 178.6L571.6 162.4z"/><path d="M580.6 185.6L598.6 185.6L589.6 169.4z"/><path d="M598.6 193.7L616.6 193.7L607.6 177.5z"/><path d="M616.5 203L634.5 203L625.5 186.8z"/><path d="M634.5 216.4L652.5 216.4L643.5 200.2z"/><path d="M652.5 236.4L670.5 236.4L661.5 220.2z"/><path d="M670.5 270.9L688.5 270.9L679.5 254.7z"/><path d="M688.5 324.8L706.5 324.8L697.5 308.6z"/><path d="M706.4 378.9L724.4 378.9L715.4 362.7z"/><path d="M724.4 416.7L742.4 416.7L733.4 400.5z"/><path d="M742.4 446.2L760.4 446.2L751.4 430z"/><path d="M760.4 515.2L778.4 515.2L769.4 499z"/><path d="M778.3 615.5L796.3 615.5L787.3 599.3z"/><path d="M796.3 642L814.3 642L805.3 625.8z"/><path d="M814.3 659.9L832.3 659.9L823.3 643.7z"/><path d="M832.2 676.3L850.2 676.3L841.2 660.1z"/><path d="M850.2 690.7L868.2 690.7L859.2 674.5z"/><path d="M868.2 699.5L886.2 699.5L877.2 683.3z"/><path d="M886.2 707.8L904.2 707.8L895.2 691.6z"/><path d="M904.2 715.9L922.2 715.9L913.2 699.7z"/><path d="M922.1 721.6L940.1 721.6L931.1 705.4z"/><path d="M940.1 725.5L958.1 725.5L949.1 709.3z"/><path d="M958.1 727.8L976.1 727.8L967.1 711.6z"/><path d="M976 729L994 729L985 712.8z"/><path d="M994 729L1012 729L1003 712.8z"/><path d="M1012 729L1030 729L1021 712.8z"/><path d="M1030 729L1048 729L1039 712.8z"/><path d="M1048 729L1066 729L1057 712.8z"/><path d="M1065.9 729L1083.9 729L1074.9 712.8z"/><path d="M1083.9 729L1101.9 729L1092.9 712.8z"/><path d="M1101.9 729L1119.9 729L1110.9 712.8z"/><path d="M1119.9 729L1137.9 729L1128.9 712.8z"/><path d="M1137.8 729L1155.8 729L1146.8 712.8z"/></g>
<polyline points="140.2,120 158.2,120 176.2,120 194.1,120 212.1,120 230.1,120 248.1,120 266.1,120 284,120 302,120 320,120 337.9,120 355.9,120 373.9,120.3 391.9,120.6 409.9,121 427.8,121.2 445.8,121.5 463.8,121.8 481.8,122.2 499.7,123 517.7,123.8 535.7,124.5 553.7,125.3 571.6,126.3 589.6,127.6 607.6,130.8 625.5,136.4 643.5,147 661.5,164.2 679.5,186.9 697.5,32 715.4,31.5 733.4,31.5 751.4,32 769.4,32.5 787.3,33 805.3,33.5 823.3,34 841.2,34.3 859.2,34.6 877.2,34.6 895.2,34.6 913.2,34.7 931.1,34.7 949.1,34.7 967.1,34.7 985,34.7 1003,34.8 1021,34.8 1039,34.8 1057,34.8 1074.9,34.8 1092.9,34.8 1110.9,34.9 1128.9,34.9 1146.8,34.9" fill="none" stroke="#00f" stroke-width="2.15" stroke-linejoin="round"/>
<g fill="#00f"><path d="M131.2 114.6L149.2 114.6L140.2 130.8z"/><path d="M149.2 114.6L167.2 114.6L158.2 130.8z"/><path d="M167.2 114.6L185.2 114.6L176.2 130.8z"/><path d="M185.1 114.6L203.1 114.6L194.1 130.8z"/><path d="M203.1 114.6L221.1 114.6L212.1 130.8z"/><path d="M221.1 114.6L239.1 114.6L230.1 130.8z"/><path d="M239.1 114.6L257.1 114.6L248.1 130.8z"/><path d="M257.1 114.6L275.1 114.6L266.1 130.8z"/><path d="M275 114.6L293 114.6L284 130.8z"/><path d="M293 114.6L311 114.6L302 130.8z"/><path d="M311 114.6L329 114.6L320 130.8z"/><path d="M328.9 114.6L346.9 114.6L337.9 130.8z"/><path d="M346.9 114.6L364.9 114.6L355.9 130.8z"/><path d="M364.9 114.9L382.9 114.9L373.9 131.1z"/><path d="M382.9 115.2L400.9 115.2L391.9 131.4z"/><path d="M400.9 115.6L418.9 115.6L409.9 131.8z"/><path d="M418.8 115.8L436.8 115.8L427.8 132z"/><path d="M436.8 116.1L454.8 116.1L445.8 132.3z"/><path d="M454.8 116.4L472.8 116.4L463.8 132.6z"/><path d="M472.8 116.8L490.8 116.8L481.8 133z"/><path d="M490.7 117.6L508.7 117.6L499.7 133.8z"/><path d="M508.7 118.4L526.7 118.4L517.7 134.6z"/><path d="M526.7 119.1L544.7 119.1L535.7 135.3z"/><path d="M544.7 119.9L562.7 119.9L553.7 136.1z"/><path d="M562.6 120.9L580.6 120.9L571.6 137.1z"/><path d="M580.6 122.2L598.6 122.2L589.6 138.4z"/><path d="M598.6 125.4L616.6 125.4L607.6 141.6z"/><path d="M616.5 131L634.5 131L625.5 147.2z"/><path d="M634.5 141.6L652.5 141.6L643.5 157.8z"/><path d="M652.5 158.8L670.5 158.8L661.5 175z"/><path d="M670.5 181.5L688.5 181.5L679.5 197.7z"/><path d="M688.5 26.6L706.5 26.6L697.5 42.8z"/><path d="M706.4 26.1L724.4 26.1L715.4 42.3z"/><path d="M724.4 26.1L742.4 26.1L733.4 42.3z"/><path d="M742.4 26.6L760.4 26.6L751.4 42.8z"/><path d="M760.4 27.1L778.4 27.1L769.4 43.3z"/><path d="M778.3 27.6L796.3 27.6L787.3 43.8z"/><path d="M796.3 28.1L814.3 28.1L805.3 44.3z"/><path d="M814.3 28.6L832.3 28.6L823.3 44.8z"/><path d="M832.2 28.9L850.2 28.9L841.2 45.1z"/><path d="M850.2 29.2L868.2 29.2L859.2 45.4z"/><path d="M868.2 29.2L886.2 29.2L877.2 45.4z"/><path d="M886.2 29.2L904.2 29.2L895.2 45.4z"/><path d="M904.2 29.3L922.2 29.3L913.2 45.5z"/><path d="M922.1 29.3L940.1 29.3L931.1 45.5z"/><path d="M940.1 29.3L958.1 29.3L949.1 45.5z"/><path d="M958.1 29.3L976.1 29.3L967.1 45.5z"/><path d="M976 29.3L994 29.3L985 45.5z"/><path d="M994 29.4L1012 29.4L1003 45.5z"/><path d="M1012 29.4L1030 29.4L1021 45.6z"/><path d="M1030 29.4L1048 29.4L1039 45.6z"/><path d="M1048 29.4L1066 29.4L1057 45.6z"/><path d="M1065.9 29.4L1083.9 29.4L1074.9 45.6z"/><path d="M1083.9 29.4L1101.9 29.4L1092.9 45.6z"/><path d="M1101.9 29.5L1119.9 29.5L1110.9 45.7z"/><path d="M1119.9 29.5L1137.9 29.5L1128.9 45.7z"/><path d="M1137.8 29.5L1155.8 29.5L1146.8 45.7z"/></g>
<rect x="122.2" y="14.5" width="1043" height="841.1" fill="none" stroke="#000" stroke-width="4.2"/>
<path d="M122.2 14.5h-16.5M122.2 67.1h-8.5M122.2 119.6h-16.5M122.2 172.2h-8.5M122.2 224.8h-16.5M122.2 277.3h-8.5M122.2 329.9h-16.5M122.2 382.5h-8.5M122.2 435.1h-16.5M122.2 487.6h-8.5M122.2 540.2h-16.5M122.2 592.8h-8.5M122.2 645.3h-16.5M122.2 697.9h-8.5M122.2 750.5h-16.5M122.2 803h-8.5M122.2 855.6h-16.5M158.2 855.6v16.5M248.1 855.6v16.5M337.9 855.6v16.5M427.8 855.6v16.5M517.7 855.6v16.5M607.6 855.6v16.5M697.5 855.6v16.5M787.3 855.6v16.5M877.2 855.6v16.5M967.1 855.6v16.5M1057 855.6v16.5M1146.8 855.6v16.5M203.1 855.6v8.5M293 855.6v8.5M382.9 855.6v8.5M472.8 855.6v8.5M562.6 855.6v8.5M652.5 855.6v8.5M742.4 855.6v8.5M832.3 855.6v8.5M922.1 855.6v8.5M1012 855.6v8.5M1101.9 855.6v8.5" stroke="#000" stroke-width="4" fill="none"/>
<g font-size="31px" text-anchor="end">
<text transform="translate(93.8 24.1) scale(1 1.04)">0.0</text>
<text transform="translate(93.8 129.2) scale(1 1.04)">-0.5</text>
<text transform="translate(93.8 234.4) scale(1 1.04)">-1.0</text>
<text transform="translate(93.8 339.5) scale(1 1.04)">-1.5</text>
<text transform="translate(93.8 444.7) scale(1 1.04)">-2.0</text>
<text transform="translate(93.8 549.8) scale(1 1.04)">-2.5</text>
<text transform="translate(93.8 654.9) scale(1 1.04)">-3.0</text>
<text transform="translate(93.8 760.1) scale(1 1.04)">-3.5</text>
<text transform="translate(93.8 865.2) scale(1 1.04)">-4.0</text>
</g>
<g font-size="31px" text-anchor="middle">
<text transform="translate(158.2 906.9) scale(1 1.04)">65</text>
<text transform="translate(248.1 906.9) scale(1 1.04)">70</text>
<text transform="translate(337.9 906.9) scale(1 1.04)">75</text>
<text transform="translate(427.8 906.9) scale(1 1.04)">80</text>
<text transform="translate(517.7 906.9) scale(1 1.04)">85</text>
<text transform="translate(607.6 906.9) scale(1 1.04)">90</text>
<text transform="translate(697.5 906.9) scale(1 1.04)">95</text>
<text transform="translate(787.3 906.9) scale(1 1.04)">100</text>
<text transform="translate(877.2 906.9) scale(1 1.04)">105</text>
<text transform="translate(967.1 906.9) scale(1 1.04)">110</text>
<text transform="translate(1057 906.9) scale(1 1.04)">115</text>
<text transform="translate(1146.8 906.9) scale(1 1.04)">120</text>
</g>
<text x="643.5" y="941.5" font-size="35.6px" text-anchor="middle">Excavation step</text>
<text transform="translate(29.8 432.5) rotate(-90)" font-size="35.8px" text-anchor="middle">Vertical stress (MPa)</text>
<text transform="translate(391.6 345) rotate(-90)" font-size="27.3px" text-anchor="middle">Left tunnel step I</text>
<text transform="translate(653.4 381.8) rotate(-90)" font-size="27.3px" text-anchor="middle">Right tunnel step I</text>
<line x1="767.3" y1="124.2" x2="840.8" y2="124.2" stroke="#000" stroke-width="2"/>
<line x1="767.3" y1="163.7" x2="840.8" y2="163.7" stroke="#f00" stroke-width="2"/>
<line x1="767.3" y1="202.8" x2="840.8" y2="202.8" stroke="#0f0" stroke-width="2"/>
<line x1="767.3" y1="242.2" x2="840.8" y2="242.2" stroke="#00f" stroke-width="2"/>
<g fill="#000"><rect x="796.7" y="117" width="14.4" height="14.4"/></g>
<g fill="#f00"><circle cx="803.9" cy="163.7" r="8"/></g>
<g fill="#0f0"><path d="M794.9 208.2L812.9 208.2L803.9 192z"/></g>
<g fill="#00f"><path d="M794.9 236.8L812.9 236.8L803.9 253z"/></g>
<g font-size="31.7px">
<text x="847.2" y="133.9" textLength="268.8" lengthAdjust="spacingAndGlyphs">Vault of the left cave</text>
<text x="847.2" y="173.4" textLength="301.8" lengthAdjust="spacingAndGlyphs">Top of center wall - left</text>
<text x="847.2" y="212.4" textLength="303.3" lengthAdjust="spacingAndGlyphs">Top of center wall-right</text>
<text x="847.2" y="251.8" textLength="141.2" lengthAdjust="spacingAndGlyphs">Right vault</text>
</g>
<line x1="508.3" y1="394.1" x2="526.5" y2="351.8" stroke="#f00" stroke-width="3"/>
<path d="M536 329.8L532.4 356.5L519.1 350.8z" fill="#f00"/>
<line x1="589.7" y1="529.2" x2="579.6" y2="476.7" stroke="#f00" stroke-width="3"/>
<path d="M575 453.1L587 477.3L572.8 480z" fill="#f00"/>
<line x1="775" y1="509.4" x2="793.2" y2="466.8" stroke="#000" stroke-width="3"/>
<path d="M802.6 444.7L799.1 471.5L785.7 465.8z" fill="#000"/>
<line x1="861" y1="683.5" x2="879.4" y2="640.1" stroke="#000" stroke-width="3"/>
<path d="M888.7 618L885.3 644.8L871.9 639.1z" fill="#000"/>
<g font-size="25.5px" text-anchor="middle">
<text transform="translate(542.5 321) scale(1 1.08)">II</text>
<text transform="translate(566.9 437.5) scale(1 1.08)">III</text>
<text transform="translate(808.3 429.6) scale(1 1.08)">II</text>
<text transform="translate(888 601.6) scale(1 1.08)">III</text>
</g>
</svg></body></html>
